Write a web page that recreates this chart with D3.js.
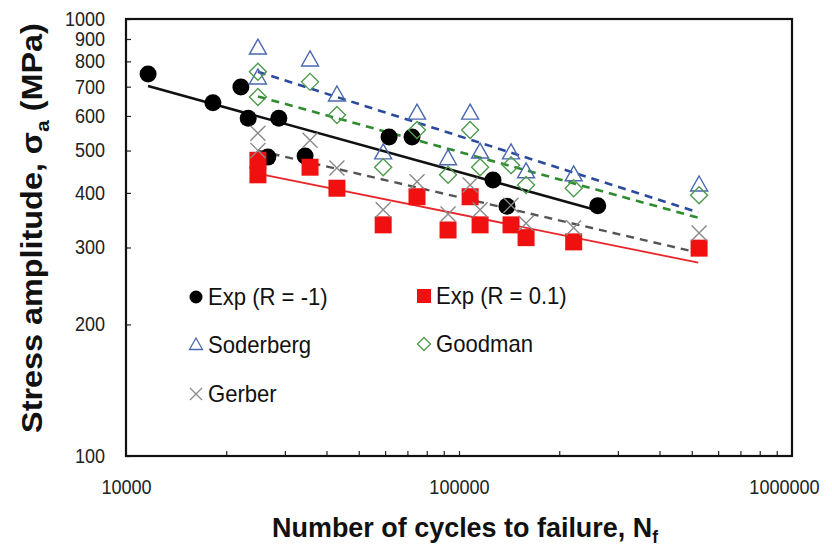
<!DOCTYPE html>
<html>
<head>
<meta charset="utf-8">
<script src="https://cdn.jsdelivr.net/npm/d3@7"></script>
<style>
  body { margin: 0; background: #fff; }
  svg { display: block; }
  text { font-family: "Liberation Sans", Arial, sans-serif; }
</style>
</head>
<body>
<svg id="chart" width="832" height="549"></svg>
<script>
// cycles to failure shared by R = 0.1 tests and the three predictions
const cyclesR01 = [24900, 24900, 35700, 43000, 59200, 74800, 92700, 108000, 115700, 143300, 159000, 221000, 526000];
const stressR01 = [475, 440, 458, 410, 338, 392, 329, 392, 338, 338, 316, 309, 299];
const soderbergS = [858, 733, 806, 670, 494, 609, 479, 609, 496, 494, 447, 440, 417];
const goodmanS = [757, 663, 718, 603, 458, 557, 440, 557, 458, 463, 417, 410, 395];
const gerberS = [548, 500, 528, 456, 366, 424, 358, 417, 366, 375, 341, 333, 324];

// R = -1 experiments
const cyclesR1 = [11650, 18240, 22130, 23280, 28770, 26660, 34500, 61650, 72260, 126500, 139300, 261000];
const stressR1 = [748, 643, 699, 593, 593, 483, 486, 537, 537, 428, 373, 374];

// trend lines (end points)
const fitR1 = [[11650, 703], [256000, 366]];
const fitR01 = [[24900, 443], [523000, 277]];
const fitSoderberg = [[24900, 757], [523000, 361]];
const fitGoodman = [[24900, 665], [523000, 351]];
const fitGerber = [[24900, 500], [523000, 292]];

const yTicks = [100, 200, 300, 400, 500, 600, 700, 800, 900, 1000];
const xLabelTicks = [10000, 100000, 1000000];
const xMinorTicks = [20000, 30000, 40000, 50000, 60000, 70000, 80000, 90000, 100000,
  200000, 300000, 400000, 500000, 600000, 700000, 800000, 900000];

const ctx = { left: 126, right: 792, top: 19, bottom: 456, narrow: 0.86 };

const svg = d3.select("#chart");

const x = d3.scaleLog().domain([10000, 1000000]).range([ctx.left, ctx.right]);
const y = d3.scaleLog().domain([100, 1000]).range([ctx.bottom, ctx.top]);

// squeeze text horizontally so it looks like the narrow font of the original
function squeeze(sel, k) {
  sel.each(function () {
    let w = this.getComputedTextLength();
    d3.select(this).attr("textLength", w * k).attr("lengthAdjust", "spacingAndGlyphs");
  });
}

/* axes */
let yAxis = svg.append("g")
  .attr("transform", `translate(${ctx.left},0)`)
  .call(d3.axisLeft(y).tickValues(yTicks).tickFormat(d3.format("d")).tickSize(-5).tickPadding(21));
yAxis.select(".domain").remove();
yAxis.selectAll("text").style("font-size", "20px").attr("fill", "#222");
yAxis.selectAll("line").attr("stroke", "#222").attr("stroke-width", 1.2);
squeeze(yAxis.selectAll("text"), 0.9);

let xAxis = svg.append("g")
  .attr("transform", `translate(0,${ctx.bottom})`)
  .call(d3.axisBottom(x).tickValues(xLabelTicks).tickFormat(d3.format("d")).tickSize(0).tickPadding(23));
xAxis.select(".domain").remove();
xAxis.selectAll("text").style("font-size", "21px").attr("fill", "#222");
squeeze(xAxis.selectAll("text"), ctx.narrow);
xAxis.selectAll("text").filter(d => d == 1000000).attr("dx", -8);

let xMinor = svg.append("g")
  .attr("transform", `translate(0,${ctx.bottom})`)
  .call(d3.axisBottom(x).tickValues(xMinorTicks).tickFormat("").tickSize(-5));
xMinor.select(".domain").remove();
xMinor.selectAll("line").attr("stroke", "#222").attr("stroke-width", 1.2);

// frame
svg.append("rect")
  .attr("x", ctx.left).attr("y", ctx.top)
  .attr("width", ctx.right - ctx.left).attr("height", ctx.bottom - ctx.top)
  .attr("fill", "none").attr("stroke", "#111").attr("stroke-width", 2.2);

/* titles */
let yTitle = svg.append("text")
  .attr("text-anchor", "middle")
  .style("font-size", "29px").style("font-weight", "bold").attr("fill", "#111");
yTitle.append("tspan").text("Stress amplitude, σ");
yTitle.append("tspan").text("a").attr("dy", 7).style("font-size", "19px");
yTitle.append("tspan").text(" (MPa)").attr("dy", -7);
let yLen = yTitle.node().getComputedTextLength();
yTitle.attr("transform", `translate(42,228) rotate(-90) scale(${410 / yLen},1)`);

let xTitle = svg.append("text")
  .attr("text-anchor", "middle")
  .style("font-size", "28px").style("font-weight", "bold").attr("fill", "#111");
xTitle.append("tspan").text("Number of cycles to failure, N");
xTitle.append("tspan").text("f").attr("dy", 6).style("font-size", "18px");
let xLen = xTitle.node().getComputedTextLength();
xTitle.attr("transform", `translate(465,537) scale(${386 / xLen},1)`);

/* marker shapes */
const triPath = "M0,-9L8.5,6L-8.5,6Z";
const diaPath = "M0,-8.5L8.5,0L0,8.5L-8.5,0Z";
const xPath = "M-7.5,-7.5L7.5,7.5M-7.5,7.5L7.5,-7.5";
const triSmall = "M0,-7L6.5,4.5L-6.5,4.5Z";
const diaSmall = "M0,-6.5L6.5,0L0,6.5L-6.5,0Z";
const xSmall = "M-6,-6L6,6M-6,6L6,-6";

/* trend lines */
const line = d3.line().x(d => x(d[0])).y(d => y(d[1]));
const lines = [
  { data: fitR1, color: "#111", width: 2.6, dash: null },
  { data: fitR01, color: "#e8262a", width: 1.8, dash: null },
  { data: fitSoderberg, color: "#2b4a9e", width: 2.6, dash: "8,6" },
  { data: fitGoodman, color: "#2e8b2e", width: 2.6, dash: "8,6" },
  { data: fitGerber, color: "#555", width: 2.4, dash: "8,6" }
];
svg.append("g").selectAll("path")
  .data(lines)
  .enter().append("path")
  .attr("d", d => line(d.data))
  .attr("fill", "none")
  .attr("stroke", d => d.color)
  .attr("stroke-width", d => d.width)
  .attr("stroke-dasharray", d => d.dash);

/* points */
let pts = svg.append("g");

pts.selectAll(".exp1")
  .data(d3.zip(cyclesR1, stressR1))
  .enter().append("circle")
  .attr("class", "exp1")
  .attr("cx", d => x(d[0])).attr("cy", d => y(d[1]))
  .attr("r", 8.5).attr("fill", "#000");

pts.selectAll(".exp01")
  .data(d3.zip(cyclesR01, stressR01))
  .enter().append("rect")
  .attr("class", "exp01")
  .attr("x", d => x(d[0]) - 8.5).attr("y", d => y(d[1]) - 8.5)
  .attr("width", 17).attr("height", 17).attr("fill", "#f01010");

pts.selectAll(".sod")
  .data(d3.zip(cyclesR01, soderbergS))
  .enter().append("path")
  .attr("class", "sod")
  .attr("d", triPath)
  .attr("transform", d => `translate(${x(d[0])},${y(d[1])})`)
  .attr("fill", "none").attr("stroke", "#4a68b0").attr("stroke-width", 1.4);

pts.selectAll(".good")
  .data(d3.zip(cyclesR01, goodmanS))
  .enter().append("path")
  .attr("class", "good")
  .attr("d", diaPath)
  .attr("transform", d => `translate(${x(d[0])},${y(d[1])})`)
  .attr("fill", "none").attr("stroke", "#4f9a4f").attr("stroke-width", 1.4);

pts.selectAll(".ger")
  .data(d3.zip(cyclesR01, gerberS))
  .enter().append("path")
  .attr("class", "ger")
  .attr("d", xPath)
  .attr("transform", d => `translate(${x(d[0])},${y(d[1])})`)
  .attr("fill", "none").attr("stroke", "#8a8a8a").attr("stroke-width", 1.4);

/* legend */
const legendItems = [
  { label: "Exp (R = -1)", kind: "circle", x: 196, y: 297 },
  { label: "Exp (R = 0.1)", kind: "square", x: 424, y: 296 },
  { label: "Soderberg", kind: "tri", x: 196, y: 345 },
  { label: "Goodman", kind: "dia", x: 424, y: 344 },
  { label: "Gerber", kind: "x", x: 196, y: 394 }
];
let legG = svg.append("g");
legendItems.forEach(function (item) {
  let g = legG.append("g").attr("transform", `translate(${item.x},${item.y})`);
  if (item.kind == "circle") g.append("circle").attr("r", 6.5).attr("fill", "#000");
  if (item.kind == "square") g.append("rect").attr("x", -7).attr("y", -7).attr("width", 14).attr("height", 14).attr("fill", "#f01010");
  if (item.kind == "tri") g.append("path").attr("d", triSmall).attr("fill", "none").attr("stroke", "#4a68b0").attr("stroke-width", 1.3);
  if (item.kind == "dia") g.append("path").attr("d", diaSmall).attr("fill", "none").attr("stroke", "#4f9a4f").attr("stroke-width", 1.3);
  if (item.kind == "x") g.append("path").attr("d", xSmall).attr("fill", "none").attr("stroke", "#8a8a8a").attr("stroke-width", 1.3);
  let t = g.append("text")
    .attr("x", 12).attr("y", 8)
    .style("font-size", "24px").attr("fill", "#111")
    .text(item.label);
  squeeze(t, 0.92);
});
</script>
</body>
</html>
